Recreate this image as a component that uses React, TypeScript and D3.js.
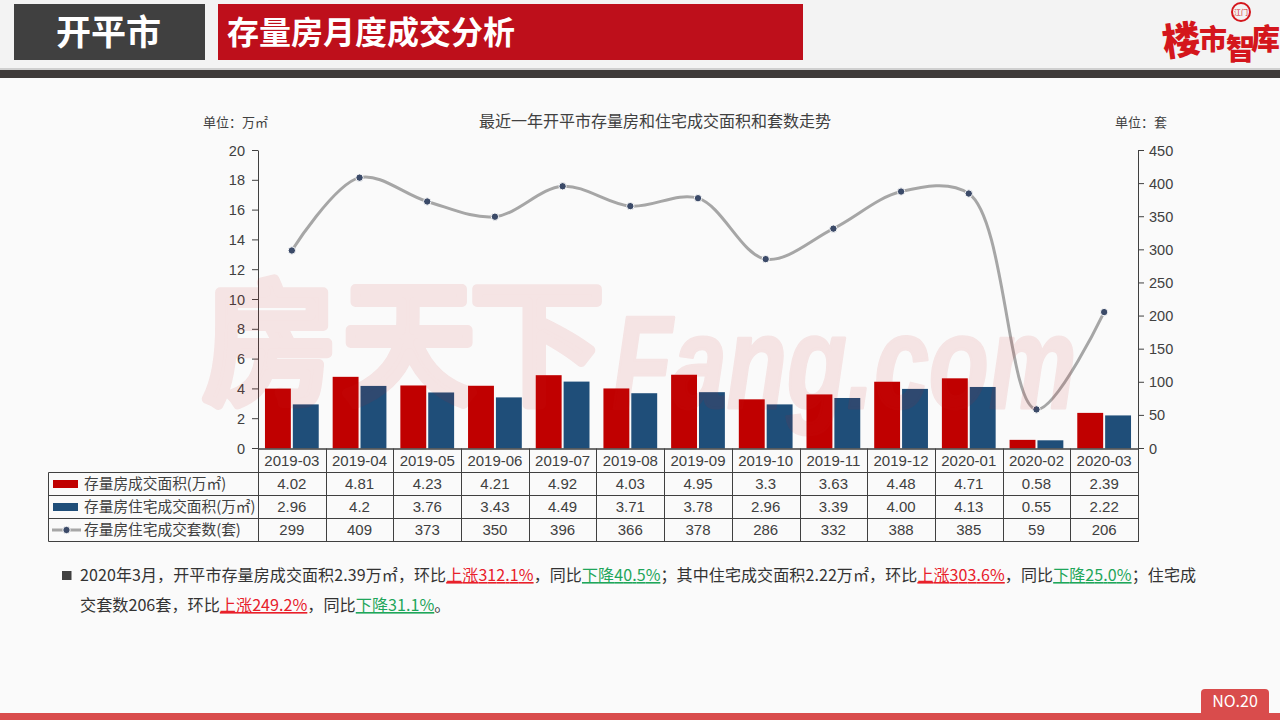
import React from 'react';
import * as d3 from 'd3';

const categories = ['2019-03','2019-04','2019-05','2019-06','2019-07','2019-08','2019-09','2019-10','2019-11','2019-12','2020-01','2020-02','2020-03'];
const areaAll = [4.02,4.81,4.23,4.21,4.92,4.03,4.95,3.3,3.63,4.48,4.71,0.58,2.39];
const areaHome = [2.96,4.2,3.76,3.43,4.49,3.71,3.78,2.96,3.39,4.0,4.13,0.55,2.22];
const units = [299,409,373,350,396,366,378,286,332,388,385,59,206];
const areaAllLabels = ['4.02','4.81','4.23','4.21','4.92','4.03','4.95','3.3','3.63','4.48','4.71','0.58','2.39'];
const areaHomeLabels = ['2.96','4.2','3.76','3.43','4.49','3.71','3.78','2.96','3.39','4.00','4.13','0.55','2.22'];
const leftTicks = [0,2,4,6,8,10,12,14,16,18,20];
const rightTicks = [0,50,100,150,200,250,300,350,400,450];
const seriesNames = ['存量房成交面积(万㎡)','存量房住宅成交面积(万㎡)','存量房住宅成交套数(套)'];

const RED = '#c00000';
const BLUE = '#1f4e79';
const INK = '#404040';
const LATIN = '"Liberation Sans","Noto Sans CJK SC",sans-serif';
const CJK = '"Noto Sans CJK SC","Liberation Sans",sans-serif';

const left = 258, right = 1138, top = 150.5, base = 448.5;
const rows = [472.5, 495.5, 518.5, 541.5];

const x = d3.scaleBand<string>().domain(categories).range([left, right]);
const sub = d3.scaleBand<string>().domain(['a','h']).range([0, x.bandwidth()]).paddingInner(0.071).paddingOuter(0.25);
const yL = d3.scaleLinear().domain([0,20]).range([base, top]);
const yR = d3.scaleLinear().domain([0,450]).range([base, top]);
const lineGen = d3.line<number>()
  .x((_, i) => x(categories[i])! + x.bandwidth()/2)
  .y(d => yR(d))
  .curve(d3.curveCatmullRom.alpha(0.55));

type Run = [string, string?];
const line1: Run[] = [['2020年3月，开平市存量房成交面积2.39万㎡，环比'],['上涨312.1%','#e8202a'],['，同比'],['下降40.5%','#1fa65a'],['；其中住宅成交面积2.22万㎡，环比'],['上涨303.6%','#e8202a'],['，同比'],['下降25.0%','#1fa65a'],['；住宅成']];
const line2: Run[] = [['交套数206套，环比'],['上涨249.2%','#e8202a'],['，同比'],['下降31.1%','#1fa65a'],['。']];

const runs = (r: Run[]) => r.map(([t, c], i) => (
  <tspan key={i} fill={c || '#333'} textDecoration={c ? 'underline' : undefined}>{t}</tspan>
));

export default function App() {
  return (
    <svg width={1280} height={720} viewBox="0 0 1280 720" style={{position:'absolute',left:0,top:0,background:'#fafafa'}}>
      <rect x={0} y={0} width={1280} height={69} fill="#f3f3f3"/>
      <rect x={0} y={68} width={1280} height={2} fill="#cfcfcf"/>
      <rect x={0} y={70} width={1280} height={8} fill="#3e3a39"/>
      <rect x={14} y={4} width={191} height={56} fill="#404040"/>
      <text x={108.5} y={45} textAnchor="middle" fontFamily={CJK} fontWeight={700} fontSize={35} fill="#fff">开平市</text>
      <rect x={218} y={4} width={585} height={56} fill="#be0f1b"/>
      <text x={227} y={44} fontFamily={CJK} fontWeight={700} fontSize={32} fill="#fff">存量房月度成交分析</text>

      <g fill="#d4161c" fontFamily={CJK} fontWeight={900}>
        <text x={1162} y={54} fontSize={38} transform="rotate(-8 1182 40)">楼</text>
        <text x={1199} y={50} fontSize={28}>市</text>
        <text x={1226} y={60} fontSize={29}>智</text>
        <text x={1251} y={50} fontSize={29}>库</text>
      </g>
      <circle cx={1241} cy={12} r={9} fill="none" stroke="#d4161c" strokeWidth={2}/>
      <text x={1241} y={15} textAnchor="middle" fontFamily={CJK} fontSize={7} fill="#d4161c">江门</text>

      <text x={235.5} y={127} textAnchor="middle" fontFamily={CJK} fontSize={13} fill={INK}>单位：万㎡</text>
      <text x={1141} y={127} textAnchor="middle" fontFamily={CJK} fontSize={13} fill={INK}>单位：套</text>
      <text x={655} y={127} textAnchor="middle" fontFamily={CJK} fontSize={16} fill={INK}>最近一年开平市存量房和住宅成交面积和套数走势</text>

      {categories.map((c, i) => (
        <g key={c}>
          <rect x={x(c)! + sub('a')!} y={yL(areaAll[i])} width={sub.bandwidth()} height={base - yL(areaAll[i])} fill={RED}/>
          <rect x={x(c)! + sub('h')!} y={yL(areaHome[i])} width={sub.bandwidth()} height={base - yL(areaHome[i])} fill={BLUE}/>
        </g>
      ))}

      <g stroke={INK} fill="none" strokeWidth={1}>
        <line x1={left+0.5} x2={left+0.5} y1={top} y2={base}/>
        <line x1={right+0.5} x2={right+0.5} y1={top} y2={base}/>
        {leftTicks.map(t => <line key={t} x1={left-6} x2={left} y1={yL(t)} y2={yL(t)}/>)}
        {rightTicks.map(t => <line key={t} x1={right} x2={right+6} y1={yR(t)} y2={yR(t)}/>)}
      </g>
      <g fontFamily={LATIN} fontSize={14.5} fill={INK}>
        {leftTicks.map(t => <text key={t} x={245} y={yL(t)+5} textAnchor="end">{t}</text>)}
        {rightTicks.map(t => <text key={t} x={1149} y={yR(t)+5}>{t}</text>)}
      </g>

      <path d={lineGen(units) || ''} fill="none" stroke="#a6a6a6" strokeWidth={3} strokeLinecap="round"/>
      {units.map((u, i) => (
        <circle key={i} cx={x(categories[i])! + x.bandwidth()/2} cy={yR(u)} r={3.7} fill="#3b4a68" stroke="#fafafa" strokeWidth={1}/>
      ))}

      <g opacity={0.1} fill="#c81e1e" stroke="#c81e1e" strokeLinejoin="round" pointerEvents="none">
        <g fontFamily={CJK} fontWeight={500} fontSize={134} strokeWidth={10}>
          <text x={203} y={393}>房</text>
          <text x={342} y={393}>天</text>
          <text x={470} y={393}>下</text>
        </g>
        <text transform="translate(612 408) scale(0.745 1)" fontFamily={LATIN} fontStyle="italic" fontWeight={700} fontSize={132} strokeWidth={3}>Fang.com</text>
      </g>

      <g stroke={INK} strokeWidth={1} fill="none">
        <line x1={left} x2={right+1} y1={base+0.5} y2={base+0.5} strokeWidth={1.5}/>
        {rows.map(r => <line key={r} x1={48.5} x2={right+1} y1={r} y2={r}/>)}
        <line x1={48.5} x2={48.5} y1={rows[0]} y2={rows[3]}/>
        {[...categories.map(c => x(c)!), right].map((v, i) => (
          <line key={i} x1={Math.round(v)+0.5} x2={Math.round(v)+0.5} y1={base} y2={rows[3]}/>
        ))}
      </g>
      <g fontFamily={LATIN} fontSize={15} fill={INK} textAnchor="middle">
        {categories.map((c, i) => {
          const cx = x(c)! + x.bandwidth()/2;
          return (
            <g key={c}>
              <text x={cx} y={465.5}>{c}</text>
              <text x={cx} y={488.5}>{areaAllLabels[i]}</text>
              <text x={cx} y={511.5}>{areaHomeLabels[i]}</text>
              <text x={cx} y={534.5}>{units[i]}</text>
            </g>
          );
        })}
      </g>

      <rect x={53} y={480} width={25} height={8} fill={RED}/>
      <rect x={53} y={503} width={25} height={8} fill={BLUE}/>
      <line x1={52} x2={81} y1={530} y2={530} stroke="#a6a6a6" strokeWidth={3}/>
      <circle cx={66.5} cy={530} r={3.7} fill="#3b4a68" stroke="#fafafa" strokeWidth={1}/>
      <g fontFamily={CJK} fontSize={14.7} fill={INK}>
        {seriesNames.map((n, i) => <text key={n} x={84} y={489 + i*23}>{n}</text>)}
      </g>

      <rect x={62} y={571} width={9.5} height={9} fill="#404040"/>
      <text x={80} y={581} fontFamily={CJK} fontSize={16} textLength={1116} lengthAdjust="spacing">{runs(line1)}</text>
      <text x={80} y={611} fontFamily={CJK} fontSize={16.15}>{runs(line2)}</text>

      <rect x={0} y={713} width={1280} height={7} fill="#d94c4c"/>
      <path d="M1201 713 V693 Q1201 689 1205 689 H1265 Q1269 689 1269 693 V713 Z" fill="#d94c4c"/>
      <text x={1235} y={707} textAnchor="middle" fontFamily={CJK} fontSize={16} fill="#fff">NO.20</text>
    </svg>
  );
}
